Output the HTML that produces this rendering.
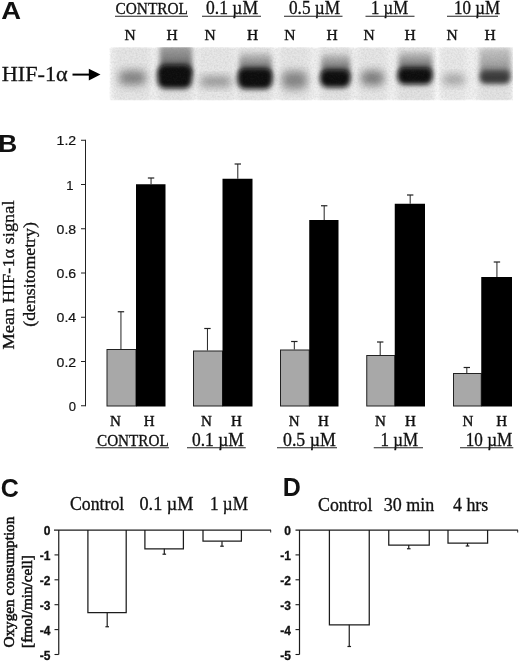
<!DOCTYPE html>
<html lang="en"><head><meta charset="utf-8"><title>Figure</title>
<style>
html,body{margin:0;padding:0;background:#fff;}
body{width:520px;height:661px;overflow:hidden;}
svg{display:block;position:absolute;left:0;top:0;}
.se{font-family:"Liberation Serif", serif;fill:#111;stroke:#111;stroke-width:0.3px;}
.sa{font-family:"Liberation Sans", sans-serif;fill:#111;}
.ax{stroke:#111;stroke-width:0.35px;}
</style></head><body>
<svg width="520" height="661" viewBox="0 0 520 661">
<rect width="520" height="661" fill="#fff"/>
<text class="sa" x="1.3" y="19" font-size="24.5" font-weight="bold" text-anchor="start" textLength="19.8" lengthAdjust="spacingAndGlyphs">A</text>
<text class="sa" x="-1.8" y="152" font-size="24.5" font-weight="bold" text-anchor="start" textLength="19" lengthAdjust="spacingAndGlyphs">B</text>
<text class="sa" x="0.8" y="497" font-size="25" font-weight="bold" text-anchor="start" >C</text>
<text class="sa" x="282.8" y="496" font-size="25" font-weight="bold" text-anchor="start" >D</text>
<text class="se" x="1.7" y="80.5" font-size="21" font-weight="normal" text-anchor="start" textLength="66" lengthAdjust="spacingAndGlyphs">HIF-1α</text>
<line x1="72.5" y1="74.6" x2="92" y2="74.6" stroke="#000" stroke-width="2"/>
<polygon points="88.8,68.7 100.5,74.6 88.8,80.6" fill="#000"/>
<text class="se" x="115.5" y="14" font-size="16" font-weight="normal" text-anchor="start" textLength="72.5" lengthAdjust="spacingAndGlyphs">CONTROL</text>
<line x1="115" y1="16.2" x2="188" y2="16.2" stroke="#222" stroke-width="1.1"/>
<text class="se" x="206" y="14" font-size="18" font-weight="normal" text-anchor="start" textLength="52" lengthAdjust="spacingAndGlyphs">0.1 µM</text>
<line x1="202" y1="16.2" x2="261" y2="16.2" stroke="#222" stroke-width="1.1"/>
<text class="se" x="289" y="14" font-size="18" font-weight="normal" text-anchor="start" textLength="51" lengthAdjust="spacingAndGlyphs">0.5 µM</text>
<line x1="284" y1="16.2" x2="342.5" y2="16.2" stroke="#222" stroke-width="1.1"/>
<text class="se" x="371" y="14" font-size="18" font-weight="normal" text-anchor="start" textLength="37" lengthAdjust="spacingAndGlyphs">1 µM</text>
<line x1="365.5" y1="16.2" x2="414.5" y2="16.2" stroke="#222" stroke-width="1.1"/>
<text class="se" x="454" y="14" font-size="18" font-weight="normal" text-anchor="start" textLength="46" lengthAdjust="spacingAndGlyphs">10 µM</text>
<line x1="447" y1="16.2" x2="498" y2="16.2" stroke="#222" stroke-width="1.1"/>
<text class="se" x="130.2" y="39.5" font-size="15.5" font-weight="normal" text-anchor="middle" style="stroke-width:0.42px">N</text>
<text class="se" x="172.2" y="39.5" font-size="15.5" font-weight="normal" text-anchor="middle" style="stroke-width:0.42px">H</text>
<text class="se" x="210.2" y="39.5" font-size="15.5" font-weight="normal" text-anchor="middle" style="stroke-width:0.42px">N</text>
<text class="se" x="252.7" y="39.5" font-size="15.5" font-weight="normal" text-anchor="middle" style="stroke-width:0.42px">H</text>
<text class="se" x="289.8" y="39.5" font-size="15.5" font-weight="normal" text-anchor="middle" style="stroke-width:0.42px">N</text>
<text class="se" x="332.2" y="39.5" font-size="15.5" font-weight="normal" text-anchor="middle" style="stroke-width:0.42px">H</text>
<text class="se" x="369.2" y="39.5" font-size="15.5" font-weight="normal" text-anchor="middle" style="stroke-width:0.42px">N</text>
<text class="se" x="410.2" y="39.5" font-size="15.5" font-weight="normal" text-anchor="middle" style="stroke-width:0.42px">H</text>
<text class="se" x="452.2" y="39.5" font-size="15.5" font-weight="normal" text-anchor="middle" style="stroke-width:0.42px">N</text>
<text class="se" x="490.2" y="39.5" font-size="15.5" font-weight="normal" text-anchor="middle" style="stroke-width:0.42px">H</text>
<defs>
<filter id="b1" x="-50%" y="-50%" width="200%" height="200%"><feGaussianBlur stdDeviation="1.6"/></filter>
<filter id="b2" x="-50%" y="-50%" width="200%" height="200%"><feGaussianBlur stdDeviation="2.6"/></filter>
<filter id="b3" x="-50%" y="-50%" width="200%" height="200%"><feGaussianBlur stdDeviation="4"/></filter>
<filter id="be" x="-5%" y="-10%" width="110%" height="120%"><feGaussianBlur stdDeviation="0.8"/></filter>
<filter id="nz" x="0" y="0" width="100%" height="100%"><feTurbulence type="fractalNoise" baseFrequency="0.55" numOctaves="2" seed="7" result="t"/><feColorMatrix type="matrix" values="0 0 0 0 0.1  0 0 0 0 0.1  0 0 0 0 0.1  0.8 0 0 0 -0.3"/></filter>
<clipPath id="cb"><rect x="109.5" y="47.3" width="403.5" height="53"/></clipPath>
</defs>
<g clip-path="url(#cb)">
<rect x="110.5" y="48" width="325.5" height="51.5" fill="#f1f1f1" filter="url(#be)"/>
<rect x="438.5" y="48" width="74" height="51.5" fill="#f1f1f1" filter="url(#be)"/>
<rect x="114" y="44" width="36" height="60" fill="#dadada" opacity="0.5" filter="url(#b2)"/>
<rect x="158" y="44" width="34" height="60" fill="#d4d4d4" opacity="0.5" filter="url(#b2)"/>
<rect x="198" y="44" width="36" height="60" fill="#dedede" opacity="0.5" filter="url(#b2)"/>
<rect x="238" y="44" width="34" height="60" fill="#d6d6d6" opacity="0.5" filter="url(#b2)"/>
<rect x="280" y="44" width="30" height="60" fill="#dadada" opacity="0.5" filter="url(#b2)"/>
<rect x="320" y="44" width="31" height="60" fill="#d6d6d6" opacity="0.5" filter="url(#b2)"/>
<rect x="358" y="44" width="29" height="60" fill="#dcdcdc" opacity="0.5" filter="url(#b2)"/>
<rect x="397" y="44" width="36" height="60" fill="#d4d4d4" opacity="0.5" filter="url(#b2)"/>
<rect x="442" y="44" width="24" height="60" fill="#e0e0e0" opacity="0.5" filter="url(#b2)"/>
<rect x="478" y="44" width="33" height="60" fill="#d6d6d6" opacity="0.5" filter="url(#b2)"/>
<linearGradient id="sg" x1="0" y1="0" x2="0" y2="1"><stop offset="0" stop-color="#555" stop-opacity="0.2"/><stop offset="0.5" stop-color="#444" stop-opacity="0.6"/><stop offset="1" stop-color="#222" stop-opacity="0.95"/></linearGradient>
<linearGradient id="sg0" x1="0" y1="0" x2="0" y2="1"><stop offset="0" stop-color="#555" stop-opacity="0.4"/><stop offset="0.5" stop-color="#444" stop-opacity="0.65"/><stop offset="1" stop-color="#222" stop-opacity="0.95"/></linearGradient>
<linearGradient id="sg2" x1="0" y1="0" x2="0" y2="1"><stop offset="0" stop-color="#666" stop-opacity="0.22"/><stop offset="0.6" stop-color="#555" stop-opacity="0.45"/><stop offset="1" stop-color="#444" stop-opacity="0.8"/></linearGradient>
<rect x="160" y="44" width="32" height="32" rx="4" fill="url(#sg0)" filter="url(#b2)"/>
<rect x="239.5" y="53" width="32.0" height="24" rx="4" fill="url(#sg)" filter="url(#b2)"/>
<rect x="321.5" y="54" width="28.5" height="23" rx="4" fill="url(#sg)" filter="url(#b2)"/>
<rect x="399" y="52" width="33" height="23" rx="4" fill="url(#sg)" filter="url(#b2)"/>
<rect x="480" y="48" width="30.5" height="28" rx="4" fill="url(#sg2)" filter="url(#b2)"/>
<rect x="119" y="70.5" width="27" height="14.5" rx="6" fill="#767676" opacity="0.88" filter="url(#b3)"/>
<rect x="157.5" y="65" width="34.5" height="23.5" rx="8" fill="#0a0a0a" opacity="1" filter="url(#b2)"/>
<rect x="200.5" y="76.5" width="30.5" height="10.0" rx="4" fill="#888" opacity="0.88" filter="url(#b3)"/>
<rect x="237.5" y="68.5" width="35.0" height="20.5" rx="8" fill="#0a0a0a" opacity="1" filter="url(#b2)"/>
<rect x="282" y="71" width="25" height="18" rx="6" fill="#7a7a7a" opacity="0.88" filter="url(#b3)"/>
<rect x="320" y="70" width="30.5" height="17.5" rx="8" fill="#0a0a0a" opacity="1" filter="url(#b2)"/>
<rect x="361" y="70.5" width="23" height="15.0" rx="6" fill="#707070" opacity="0.88" filter="url(#b3)"/>
<rect x="397.5" y="68" width="35.0" height="16.5" rx="7" fill="#0c0c0c" opacity="1" filter="url(#b2)"/>
<rect x="443" y="74.5" width="21.5" height="10.0" rx="4" fill="#969696" opacity="0.85" filter="url(#b3)"/>
<rect x="479.5" y="71" width="31.0" height="13" rx="6" fill="#3a3a3a" opacity="1" filter="url(#b2)"/>
<rect x="109" y="47" width="405" height="54" filter="url(#nz)" opacity="0.3"/>
</g>
<line x1="85.5" y1="139.75" x2="85.5" y2="406.25" stroke="#222" stroke-width="1"/>
<line x1="81" y1="405.75" x2="85.5" y2="405.75" stroke="#222" stroke-width="1"/>
<text class="sa" x="75.9" y="410.75" font-size="13" font-weight="normal" text-anchor="end" style="stroke:#111;stroke-width:0.2px">0</text>
<line x1="81" y1="361.5" x2="85.5" y2="361.5" stroke="#222" stroke-width="1"/>
<text class="sa" x="56.6" y="366.5" font-size="13" font-weight="normal" text-anchor="start" textLength="19.6" lengthAdjust="spacingAndGlyphs" style="stroke:#111;stroke-width:0.2px">0.2</text>
<line x1="81" y1="317.25" x2="85.5" y2="317.25" stroke="#222" stroke-width="1"/>
<text class="sa" x="56.6" y="322.25" font-size="13" font-weight="normal" text-anchor="start" textLength="19.6" lengthAdjust="spacingAndGlyphs" style="stroke:#111;stroke-width:0.2px">0.4</text>
<line x1="81" y1="273.0" x2="85.5" y2="273.0" stroke="#222" stroke-width="1"/>
<text class="sa" x="56.6" y="278.0" font-size="13" font-weight="normal" text-anchor="start" textLength="19.6" lengthAdjust="spacingAndGlyphs" style="stroke:#111;stroke-width:0.2px">0.6</text>
<line x1="81" y1="228.75" x2="85.5" y2="228.75" stroke="#222" stroke-width="1"/>
<text class="sa" x="56.6" y="233.75" font-size="13" font-weight="normal" text-anchor="start" textLength="19.6" lengthAdjust="spacingAndGlyphs" style="stroke:#111;stroke-width:0.2px">0.8</text>
<line x1="81" y1="184.5" x2="85.5" y2="184.5" stroke="#222" stroke-width="1"/>
<text class="sa" x="73.4" y="189.5" font-size="13" font-weight="normal" text-anchor="end" style="stroke:#111;stroke-width:0.2px">1</text>
<line x1="81" y1="140.25" x2="85.5" y2="140.25" stroke="#222" stroke-width="1"/>
<text class="sa" x="56.6" y="145.25" font-size="13" font-weight="normal" text-anchor="start" textLength="19.6" lengthAdjust="spacingAndGlyphs" style="stroke:#111;stroke-width:0.2px">1.2</text>
<rect x="107.0" y="349.5" width="29.0" height="56.5" fill="#a8a8a8" stroke="#222" stroke-width="1"/>
<rect x="136" y="184.25" width="29.5" height="222.25" fill="#000" stroke="none" stroke-width="0"/>
<line x1="120.95" y1="349" x2="120.95" y2="311.75" stroke="#222" stroke-width="1"/>
<line x1="117.75" y1="311.75" x2="124.15" y2="311.75" stroke="#222" stroke-width="1.2"/>
<line x1="151.05" y1="184.25" x2="151.05" y2="178" stroke="#222" stroke-width="1"/>
<line x1="147.85000000000002" y1="178" x2="154.25" y2="178" stroke="#222" stroke-width="1.2"/>
<rect x="193.5" y="351.0" width="29.0" height="55.0" fill="#a8a8a8" stroke="#222" stroke-width="1"/>
<rect x="222.5" y="178.75" width="30.0" height="227.75" fill="#000" stroke="none" stroke-width="0"/>
<line x1="207.45" y1="350.5" x2="207.45" y2="328.5" stroke="#222" stroke-width="1"/>
<line x1="204.25" y1="328.5" x2="210.64999999999998" y2="328.5" stroke="#222" stroke-width="1.2"/>
<line x1="237.8" y1="178.75" x2="237.8" y2="164" stroke="#222" stroke-width="1"/>
<line x1="234.60000000000002" y1="164" x2="241.0" y2="164" stroke="#222" stroke-width="1.2"/>
<rect x="280.5" y="350.0" width="28.75" height="56.0" fill="#a8a8a8" stroke="#222" stroke-width="1"/>
<rect x="309.25" y="220" width="29.25" height="186.5" fill="#000" stroke="none" stroke-width="0"/>
<line x1="294.325" y1="349.5" x2="294.325" y2="341.5" stroke="#222" stroke-width="1"/>
<line x1="291.125" y1="341.5" x2="297.525" y2="341.5" stroke="#222" stroke-width="1.2"/>
<line x1="324.175" y1="220" x2="324.175" y2="205.75" stroke="#222" stroke-width="1"/>
<line x1="320.975" y1="205.75" x2="327.375" y2="205.75" stroke="#222" stroke-width="1.2"/>
<rect x="366.75" y="355.5" width="28.0" height="50.5" fill="#a8a8a8" stroke="#222" stroke-width="1"/>
<rect x="394.75" y="203.75" width="30.25" height="202.75" fill="#000" stroke="none" stroke-width="0"/>
<line x1="380.2" y1="355" x2="380.2" y2="342" stroke="#222" stroke-width="1"/>
<line x1="377.0" y1="342" x2="383.4" y2="342" stroke="#222" stroke-width="1.2"/>
<line x1="410.175" y1="203.75" x2="410.175" y2="195" stroke="#222" stroke-width="1"/>
<line x1="406.975" y1="195" x2="413.375" y2="195" stroke="#222" stroke-width="1.2"/>
<rect x="453.5" y="373.5" width="27.75" height="32.5" fill="#a8a8a8" stroke="#222" stroke-width="1"/>
<rect x="481.25" y="277" width="30.75" height="129.5" fill="#000" stroke="none" stroke-width="0"/>
<line x1="466.825" y1="373" x2="466.825" y2="367.5" stroke="#222" stroke-width="1"/>
<line x1="463.625" y1="367.5" x2="470.025" y2="367.5" stroke="#222" stroke-width="1.2"/>
<line x1="496.925" y1="277" x2="496.925" y2="262" stroke="#222" stroke-width="1"/>
<line x1="493.725" y1="262" x2="500.125" y2="262" stroke="#222" stroke-width="1.2"/>
<text class="se" x="115.3" y="425.5" font-size="15" font-weight="normal" text-anchor="middle" style="stroke-width:0.42px">N</text>
<text class="se" x="149.2" y="425.5" font-size="15" font-weight="normal" text-anchor="middle" style="stroke-width:0.42px">H</text>
<text class="se" x="206.3" y="425.5" font-size="15" font-weight="normal" text-anchor="middle" style="stroke-width:0.42px">N</text>
<text class="se" x="236.5" y="425.5" font-size="15" font-weight="normal" text-anchor="middle" style="stroke-width:0.42px">H</text>
<text class="se" x="294.1" y="425.5" font-size="15" font-weight="normal" text-anchor="middle" style="stroke-width:0.42px">N</text>
<text class="se" x="323.4" y="425.5" font-size="15" font-weight="normal" text-anchor="middle" style="stroke-width:0.42px">H</text>
<text class="se" x="380.5" y="425.5" font-size="15" font-weight="normal" text-anchor="middle" style="stroke-width:0.42px">N</text>
<text class="se" x="410.5" y="425.5" font-size="15" font-weight="normal" text-anchor="middle" style="stroke-width:0.42px">H</text>
<text class="se" x="467.8" y="425.5" font-size="15" font-weight="normal" text-anchor="middle" style="stroke-width:0.42px">N</text>
<text class="se" x="501.7" y="425.5" font-size="15" font-weight="normal" text-anchor="middle" style="stroke-width:0.42px">H</text>
<text class="se" x="97" y="445.5" font-size="16" font-weight="normal" text-anchor="start" textLength="71.75" lengthAdjust="spacingAndGlyphs">CONTROL</text>
<line x1="95.5" y1="447.7" x2="169" y2="447.7" stroke="#222" stroke-width="1.1"/>
<text class="se" x="192" y="445.5" font-size="18" font-weight="normal" text-anchor="start" textLength="51.75" lengthAdjust="spacingAndGlyphs">0.1 µM</text>
<line x1="187" y1="447.7" x2="245.75" y2="447.7" stroke="#222" stroke-width="1.1"/>
<text class="se" x="283" y="445.5" font-size="18" font-weight="normal" text-anchor="start" textLength="52.75" lengthAdjust="spacingAndGlyphs">0.5 µM</text>
<line x1="277" y1="447.7" x2="337" y2="447.7" stroke="#222" stroke-width="1.1"/>
<text class="se" x="380.5" y="445.5" font-size="18" font-weight="normal" text-anchor="start" textLength="37.5" lengthAdjust="spacingAndGlyphs">1 µM</text>
<line x1="373.75" y1="447.7" x2="423" y2="447.7" stroke="#222" stroke-width="1.1"/>
<text class="se" x="465.8" y="445.5" font-size="18" font-weight="normal" text-anchor="start" textLength="46.49999999999994" lengthAdjust="spacingAndGlyphs">10 µM</text>
<line x1="460" y1="447.7" x2="513.3" y2="447.7" stroke="#222" stroke-width="1.1"/>
<text class="se" font-size="17.5" textLength="149" lengthAdjust="spacingAndGlyphs" transform="translate(14.2,349.5) rotate(-90)">Mean HIF-1α signal</text>
<text class="se" font-size="17.5" textLength="104.5" lengthAdjust="spacingAndGlyphs" transform="translate(34.8,326.7) rotate(-90)">(densitometry)</text>
<line x1="58.75" y1="530" x2="58.75" y2="654.5" stroke="#1c1c1c" stroke-width="1.2"/>
<line x1="54" y1="530" x2="271" y2="530" stroke="#1c1c1c" stroke-width="1.25"/>
<line x1="270.7" y1="530" x2="270.7" y2="532.5" stroke="#222" stroke-width="1"/>
<text class="sa" x="50.4" y="535.0" font-size="12" font-weight="bold" text-anchor="end" style="stroke:#111;stroke-width:0.3px">0</text>
<line x1="54.5" y1="554.9" x2="58.75" y2="554.9" stroke="#1c1c1c" stroke-width="1.1"/>
<text class="sa" x="50.4" y="559.9" font-size="12" font-weight="bold" text-anchor="end" style="stroke:#111;stroke-width:0.3px">-1</text>
<line x1="54.5" y1="579.8" x2="58.75" y2="579.8" stroke="#1c1c1c" stroke-width="1.1"/>
<text class="sa" x="50.4" y="584.8" font-size="12" font-weight="bold" text-anchor="end" style="stroke:#111;stroke-width:0.3px">-2</text>
<line x1="54.5" y1="604.7" x2="58.75" y2="604.7" stroke="#1c1c1c" stroke-width="1.1"/>
<text class="sa" x="50.4" y="609.7" font-size="12" font-weight="bold" text-anchor="end" style="stroke:#111;stroke-width:0.3px">-3</text>
<line x1="54.5" y1="629.6" x2="58.75" y2="629.6" stroke="#1c1c1c" stroke-width="1.1"/>
<text class="sa" x="50.4" y="634.6" font-size="12" font-weight="bold" text-anchor="end" style="stroke:#111;stroke-width:0.3px">-4</text>
<line x1="54.5" y1="654.5" x2="58.75" y2="654.5" stroke="#1c1c1c" stroke-width="1.1"/>
<text class="sa" x="50.4" y="659.5" font-size="12" font-weight="bold" text-anchor="end" style="stroke:#111;stroke-width:0.3px">-5</text>
<path d="M87.9,530 V612.5 H126.2 V530" fill="none" stroke="#1c1c1c" stroke-width="1.25"/>
<line x1="107.2" y1="612.5" x2="107.2" y2="626.75" stroke="#1c1c1c" stroke-width="1.2"/>
<line x1="105.4" y1="626.75" x2="109.0" y2="626.75" stroke="#1c1c1c" stroke-width="1.2"/>
<path d="M144.9,530 V548.8 H183.4 V530" fill="none" stroke="#1c1c1c" stroke-width="1.25"/>
<line x1="164.3" y1="548.8" x2="164.3" y2="554.2" stroke="#1c1c1c" stroke-width="1.2"/>
<line x1="162.5" y1="554.2" x2="166.10000000000002" y2="554.2" stroke="#1c1c1c" stroke-width="1.2"/>
<path d="M203,530 V541.2 H241.4 V530" fill="none" stroke="#1c1c1c" stroke-width="1.25"/>
<line x1="222" y1="541.2" x2="222" y2="546.2" stroke="#1c1c1c" stroke-width="1.2"/>
<line x1="220.2" y1="546.2" x2="223.8" y2="546.2" stroke="#1c1c1c" stroke-width="1.2"/>
<text class="se" x="70" y="510.3" font-size="18" font-weight="normal" text-anchor="start" textLength="54.25" lengthAdjust="spacingAndGlyphs">Control</text>
<text class="se" x="139.5" y="510.3" font-size="18" font-weight="normal" text-anchor="start" textLength="54.0" lengthAdjust="spacingAndGlyphs">0.1 µM</text>
<text class="se" x="210" y="510.3" font-size="18" font-weight="normal" text-anchor="start" textLength="38" lengthAdjust="spacingAndGlyphs">1 µM</text>
<text class="se" font-size="14.6" style="stroke-width:0.55px" textLength="131" lengthAdjust="spacingAndGlyphs" transform="translate(14,647.6) rotate(-90)">Oxygen consumption</text>
<text class="se" font-size="14.4" style="stroke-width:0.55px" textLength="92.6" lengthAdjust="spacingAndGlyphs" transform="translate(31.6,647.9) rotate(-90)">[fmol/min/cell]</text>
<line x1="299.5" y1="530" x2="299.5" y2="654.5" stroke="#1c1c1c" stroke-width="1.2"/>
<line x1="295.5" y1="530" x2="518" y2="530" stroke="#1c1c1c" stroke-width="1.25"/>
<line x1="517.7" y1="530" x2="517.7" y2="532.5" stroke="#222" stroke-width="1"/>
<text class="sa" x="291.0" y="535.0" font-size="12" font-weight="bold" text-anchor="end" style="stroke:#111;stroke-width:0.3px">0</text>
<line x1="295.5" y1="554.9" x2="299.5" y2="554.9" stroke="#1c1c1c" stroke-width="1.1"/>
<text class="sa" x="291.0" y="559.9" font-size="12" font-weight="bold" text-anchor="end" style="stroke:#111;stroke-width:0.3px">-1</text>
<line x1="295.5" y1="579.8" x2="299.5" y2="579.8" stroke="#1c1c1c" stroke-width="1.1"/>
<text class="sa" x="291.0" y="584.8" font-size="12" font-weight="bold" text-anchor="end" style="stroke:#111;stroke-width:0.3px">-2</text>
<line x1="295.5" y1="604.7" x2="299.5" y2="604.7" stroke="#1c1c1c" stroke-width="1.1"/>
<text class="sa" x="291.0" y="609.7" font-size="12" font-weight="bold" text-anchor="end" style="stroke:#111;stroke-width:0.3px">-3</text>
<line x1="295.5" y1="629.6" x2="299.5" y2="629.6" stroke="#1c1c1c" stroke-width="1.1"/>
<text class="sa" x="291.0" y="634.6" font-size="12" font-weight="bold" text-anchor="end" style="stroke:#111;stroke-width:0.3px">-4</text>
<line x1="295.5" y1="654.5" x2="299.5" y2="654.5" stroke="#1c1c1c" stroke-width="1.1"/>
<text class="sa" x="291.0" y="659.5" font-size="12" font-weight="bold" text-anchor="end" style="stroke:#111;stroke-width:0.3px">-5</text>
<path d="M329.4,530 V624.75 H369.25 V530" fill="none" stroke="#1c1c1c" stroke-width="1.25"/>
<line x1="349.25" y1="624.75" x2="349.25" y2="646.5" stroke="#1c1c1c" stroke-width="1.2"/>
<line x1="347.45" y1="646.5" x2="351.05" y2="646.5" stroke="#1c1c1c" stroke-width="1.2"/>
<path d="M388.75,530 V545 H429.25 V530" fill="none" stroke="#1c1c1c" stroke-width="1.25"/>
<line x1="408.75" y1="545" x2="408.75" y2="548.75" stroke="#1c1c1c" stroke-width="1.2"/>
<line x1="406.95" y1="548.75" x2="410.55" y2="548.75" stroke="#1c1c1c" stroke-width="1.2"/>
<path d="M448,530 V543 H487.6 V530" fill="none" stroke="#1c1c1c" stroke-width="1.25"/>
<line x1="467.5" y1="543" x2="467.5" y2="546" stroke="#1c1c1c" stroke-width="1.2"/>
<line x1="465.7" y1="546" x2="469.3" y2="546" stroke="#1c1c1c" stroke-width="1.2"/>
<text class="se" x="318" y="511" font-size="18" font-weight="normal" text-anchor="start" textLength="54.5" lengthAdjust="spacingAndGlyphs">Control</text>
<text class="se" x="383.75" y="511" font-size="18" font-weight="normal" text-anchor="start" textLength="50.5" lengthAdjust="spacingAndGlyphs">30 min</text>
<text class="se" x="453" y="511" font-size="18" font-weight="normal" text-anchor="start" textLength="35.30000000000001" lengthAdjust="spacingAndGlyphs">4 hrs</text>
</svg>
</body></html>
